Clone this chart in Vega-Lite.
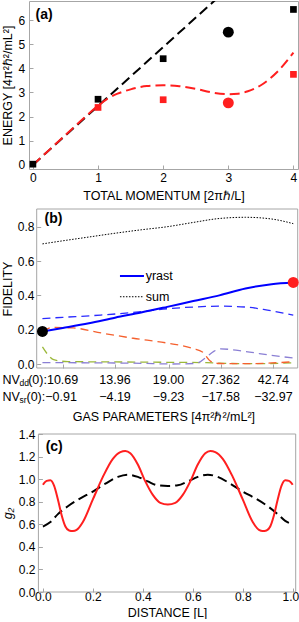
{
  "$schema": "https://vega.github.io/schema/vega-lite/v6.json",
  "padding": {"left": 0, "top": 0, "right": 0, "bottom": 0},
  "spacing": 5,
  "config": {
    "font": "Liberation Sans",
    "view": {"stroke": "#a6a6a6", "strokeWidth": 1},
    "axis": {"domain": false, "grid": false, "tickColor": "#a6a6a6", "tickSize": -4, "labelFontSize": 12, "titleFontSize": 12.5, "titleFontWeight": "normal", "labelColor": "black", "titleColor": "black", "labelFlush": false, "labelOverlap": false, "labelPadding": 6}
  },
  "datasets": {
    "aLine": [{"m": 0, "e": 0}, {"m": 3, "e": 7.32}],
    "aRed": [{"m":0,"e":0},{"m":0.25,"e":0.62},{"m":0.5,"e":1.24},{"m":0.75,"e":1.86},{"m":1,"e":2.45},{"m":1.15,"e":2.75},{"m":1.3,"e":2.95},{"m":1.5,"e":3.13},{"m":1.75,"e":3.27},{"m":2,"e":3.3},{"m":2.25,"e":3.26},{"m":2.5,"e":3.15},{"m":2.75,"e":3.0},{"m":3,"e":2.93},{"m":3.15,"e":2.95},{"m":3.3,"e":3.05},{"m":3.5,"e":3.3},{"m":3.75,"e":3.85},{"m":4,"e":4.65}],
    "aPts": [
      {"m":0,"e":0.03,"series":"A","kind":"sq"},
      {"m":1,"e":2.72,"series":"A","kind":"sq"},
      {"m":2,"e":4.4,"series":"A","kind":"sq"},
      {"m":3,"e":5.5,"series":"A","kind":"ci"},
      {"m":4,"e":6.44,"series":"A","kind":"sq"},
      {"m":1,"e":2.38,"series":"B","kind":"sq"},
      {"m":2,"e":2.7,"series":"B","kind":"sq"},
      {"m":3,"e":2.57,"series":"B","kind":"ci"},
      {"m":4,"e":3.75,"series":"B","kind":"sq"}
    ],
    "aLab": [{"m": 0.04, "e": 6.2, "t": "(a)"}],
    "bFrame": [{"g":0,"g2":1,"f":-0.0233,"f2":0.9033}],
    "bSum": [{"g":0.022,"f":0.70},{"g":0.1,"f":0.718},{"g":0.2,"f":0.74},{"g":0.3,"f":0.762},{"g":0.4,"f":0.782},{"g":0.5,"f":0.80},{"g":0.6,"f":0.825},{"g":0.7,"f":0.848},{"g":0.8,"f":0.855},{"g":0.9,"f":0.845},{"g":0.983,"f":0.818}],
    "bYrast": [{"g":0.022,"f":0.19},{"g":0.1,"f":0.21},{"g":0.2,"f":0.237},{"g":0.3,"f":0.27},{"g":0.4,"f":0.30},{"g":0.5,"f":0.333},{"g":0.6,"f":0.367},{"g":0.7,"f":0.40},{"g":0.8,"f":0.44},{"g":0.9,"f":0.465},{"g":0.983,"f":0.475}],
    "bBlueD": [{"g":0.022,"f":0.265},{"g":0.1,"f":0.272},{"g":0.245,"f":0.285},{"g":0.4,"f":0.305},{"g":0.5,"f":0.322},{"g":0.6,"f":0.332},{"g":0.7,"f":0.337},{"g":0.8,"f":0.332},{"g":0.884,"f":0.314},{"g":0.983,"f":0.285}],
    "bOrange": [{"g":0.022,"f":0.19},{"g":0.06,"f":0.213},{"g":0.14,"f":0.21},{"g":0.25,"f":0.18},{"g":0.37,"f":0.15},{"g":0.5,"f":0.122},{"g":0.6,"f":0.09},{"g":0.635,"f":0.07},{"g":0.667,"f":0.015},{"g":0.7,"f":0.003},{"g":0.8,"f":0.002},{"g":0.9,"f":0.006},{"g":0.983,"f":0.013}],
    "bGreen": [{"g":0.022,"f":0.10},{"g":0.04,"f":0.06},{"g":0.065,"f":0.025},{"g":0.12,"f":0.014},{"g":0.3,"f":0.012},{"g":0.5,"f":0.01},{"g":0.65,"f":0.008},{"g":0.75,"f":0.003},{"g":0.85,"f":0.002},{"g":0.983,"f":0.007}],
    "bPurple": [{"g":0.022,"f":0.008},{"g":0.2,"f":0.007},{"g":0.4,"f":0.004},{"g":0.52,"f":0.0},{"g":0.6,"f":0.003},{"g":0.62,"f":0.008},{"g":0.65,"f":0.04},{"g":0.68,"f":0.075},{"g":0.705,"f":0.088},{"g":0.8,"f":0.073},{"g":0.9,"f":0.05},{"g":0.983,"f":0.035}],
    "bDotK": [{"g":0.022,"f":0.19}],
    "bDotR": [{"g":0.983,"f":0.475}],
    "bLegY": [{"g":0.319,"g2":0.411,"f":0.513}],
    "bLegS": [{"g":0.319,"g2":0.411,"f":0.392}],
    "bLegT": [{"g":0.4176,"f":0.513,"t":"yrast"},{"g":0.4176,"f":0.392,"t":"sum"}],
    "bLab": [{"g":0.03,"f":0.847,"t":"(b)"}],
    "bNVmain": [
      {"g":-0.1314,"f":-0.0932,"t":"NV"},
      {"g":-0.0326,"f":-0.0932,"t":"(0):10.69"},
      {"g":-0.1314,"f":-0.1906,"t":"NV"},
      {"g":-0.0391,"f":-0.1906,"t":"(0):−0.91"}
    ],
    "bNVsub": [
      {"g":-0.0659,"f":-0.0932,"t":"dd"},
      {"g":-0.0659,"f":-0.1906,"t":"sr"}
    ],
    "bNVval": [
      {"g":0.3,"f":-0.0932,"t":"13.96"},
      {"g":0.505,"f":-0.0932,"t":"19.00"},
      {"g":0.705,"f":-0.0932,"t":"27.362"},
      {"g":0.907,"f":-0.0932,"t":"42.74"},
      {"g":0.3,"f":-0.1906,"t":"−4.19"},
      {"g":0.505,"f":-0.1906,"t":"−9.23"},
      {"g":0.705,"f":-0.1906,"t":"−17.58"},
      {"g":0.907,"f":-0.1906,"t":"−32.97"}
    ],
    "cFrame": [{"d":-0.018,"d2":1.012,"v":0,"v2":1.4}],
    "cRed": [{"d":0,"v":0.95},{"d":0.015,"v":0.985},{"d":0.03,"v":0.99},{"d":0.045,"v":0.94},{"d":0.06,"v":0.82},{"d":0.075,"v":0.68},{"d":0.09,"v":0.58},{"d":0.105,"v":0.545},{"d":0.12,"v":0.54},{"d":0.135,"v":0.55},{"d":0.16,"v":0.62},{"d":0.2,"v":0.82},{"d":0.24,"v":1.02},{"d":0.28,"v":1.18},{"d":0.31,"v":1.24},{"d":0.33,"v":1.25},{"d":0.35,"v":1.23},{"d":0.38,"v":1.13},{"d":0.41,"v":0.98},{"d":0.44,"v":0.86},{"d":0.47,"v":0.79},{"d":0.5,"v":0.775},{"d":0.53,"v":0.79},{"d":0.56,"v":0.86},{"d":0.59,"v":0.98},{"d":0.62,"v":1.13},{"d":0.65,"v":1.23},{"d":0.67,"v":1.25},{"d":0.69,"v":1.24},{"d":0.72,"v":1.18},{"d":0.76,"v":1.02},{"d":0.8,"v":0.82},{"d":0.84,"v":0.62},{"d":0.865,"v":0.55},{"d":0.88,"v":0.54},{"d":0.895,"v":0.545},{"d":0.91,"v":0.58},{"d":0.925,"v":0.68},{"d":0.94,"v":0.82},{"d":0.955,"v":0.94},{"d":0.97,"v":0.99},{"d":0.985,"v":0.985},{"d":1.0,"v":0.95}],
    "cBlack": [{"d":0,"v":0.58},{"d":0.03,"v":0.62},{"d":0.06,"v":0.69},{"d":0.1,"v":0.76},{"d":0.15,"v":0.83},{"d":0.2,"v":0.89},{"d":0.25,"v":0.96},{"d":0.3,"v":1.02},{"d":0.34,"v":1.04},{"d":0.38,"v":1.02},{"d":0.42,"v":0.98},{"d":0.46,"v":0.945},{"d":0.5,"v":0.94},{"d":0.54,"v":0.945},{"d":0.58,"v":0.98},{"d":0.62,"v":1.02},{"d":0.66,"v":1.04},{"d":0.7,"v":1.02},{"d":0.75,"v":0.96},{"d":0.8,"v":0.89},{"d":0.85,"v":0.83},{"d":0.9,"v":0.76},{"d":0.94,"v":0.69},{"d":0.97,"v":0.63},{"d":1.0,"v":0.60}],
    "cLab": [{"d":0.011,"v":1.287,"t":"(c)"}]
  },
  "vconcat": [
    {
      "width": 269, "height": 168,
      "encoding": {
        "x": {"field": "m", "type": "quantitative", "scale": {"domain": [-0.06, 4.07], "nice": false, "zero": false}, "axis": {"values": [0,1,2,3,4], "title": "TOTAL MOMENTUM [2πℏ/L]", "labelPadding": 7.5, "titlePadding": 6}},
        "y": {"field": "e", "type": "quantitative", "scale": {"domain": [-0.17, 6.79], "nice": false, "zero": false}, "axis": {"values": [0,1,2,3,4,5,6], "title": "ENERGY [4π²ℏ²/mL²]", "labelPadding": 8.3, "titlePadding": 4}}
      },
      "layer": [
        {"data": {"name": "aLine"}, "mark": {"type": "line", "color": "black", "strokeWidth": 2, "strokeDash": [10, 5], "clip": true}},
        {"data": {"name": "aRed"}, "mark": {"type": "line", "color": "#ff1f1f", "strokeWidth": 2, "strokeDash": [10, 5], "interpolate": "monotone", "clip": true}},
        {"data": {"name": "aPts"}, "mark": {"type": "point", "filled": true, "opacity": 1},
          "encoding": {
            "color": {"field": "series", "type": "nominal", "scale": {"domain": ["A", "B"], "range": ["black", "#ff1f1f"]}, "legend": null},
            "shape": {"field": "kind", "type": "nominal", "scale": {"domain": ["sq", "ci"], "range": ["square", "circle"]}, "legend": null},
            "size": {"field": "kind", "type": "nominal", "scale": {"domain": ["sq", "ci"], "range": [45, 120]}, "legend": null}
          }},
        {"data": {"name": "aLab"}, "mark": {"type": "text", "align": "left", "baseline": "middle", "fontSize": 14, "fontWeight": "bold"}, "encoding": {"text": {"field": "t"}}}
      ]
    },
    {
      "width": 268.7, "height": 159,
      "view": {"stroke": null},
      "encoding": {
        "x": {"field": "g", "type": "quantitative", "scale": {"domain": [-0.0295, 1], "nice": false, "zero": false}, "axis": {"values": [0.1, 0.3, 0.505, 0.705, 0.907], "labels": false, "title": "GAS PARAMETERS [4π²ℏ²/mL²]", "titlePadding": 42}},
        "y": {"field": "f", "type": "quantitative", "scale": {"domain": [-0.0233, 0.9033], "nice": false, "zero": false}, "axis": {"values": [0, 0.2, 0.4, 0.6, 0.8], "format": ".1f", "title": "FIDELITY", "offset": -7.7, "labelPadding": 6.7, "titlePadding": 3.3}}
      },
      "layer": [
        {"data": {"name": "bFrame"}, "mark": {"type": "rect", "filled": false, "color": "#a6a6a6", "strokeWidth": 1}, "encoding": {"x2": {"field": "g2"}, "y2": {"field": "f2"}}},
        {"data": {"name": "bSum"}, "mark": {"type": "line", "color": "black", "strokeWidth": 1, "strokeDash": [1.5, 1.5], "interpolate": "monotone"}},
        {"data": {"name": "bGreen"}, "mark": {"type": "line", "color": "#9bb83a", "strokeWidth": 1.3, "strokeDash": [8, 5], "interpolate": "monotone"}},
        {"data": {"name": "bPurple"}, "mark": {"type": "line", "color": "#8a7fd4", "strokeWidth": 1.3, "strokeDash": [8, 5], "interpolate": "monotone"}},
        {"data": {"name": "bOrange"}, "mark": {"type": "line", "color": "#f5602e", "strokeWidth": 1.3, "strokeDash": [8, 5], "interpolate": "monotone"}},
        {"data": {"name": "bBlueD"}, "mark": {"type": "line", "color": "#2a2aff", "strokeWidth": 1.3, "strokeDash": [8, 5], "interpolate": "monotone"}},
        {"data": {"name": "bYrast"}, "mark": {"type": "line", "color": "#0000ff", "strokeWidth": 2, "interpolate": "monotone"}},
        {"data": {"name": "bDotK"}, "mark": {"type": "circle", "color": "black", "size": 120, "opacity": 1}},
        {"data": {"name": "bDotR"}, "mark": {"type": "circle", "color": "#ff1f1f", "size": 120, "opacity": 1}},
        {"data": {"name": "bLegY"}, "mark": {"type": "rule", "color": "#0000ff", "strokeWidth": 2}, "encoding": {"x2": {"field": "g2"}}},
        {"data": {"name": "bLegS"}, "mark": {"type": "rule", "color": "black", "strokeWidth": 1, "strokeDash": [1.5, 1.5]}, "encoding": {"x2": {"field": "g2"}}},
        {"data": {"name": "bLegT"}, "mark": {"type": "text", "align": "left", "baseline": "middle", "fontSize": 12.5}, "encoding": {"text": {"field": "t"}}},
        {"data": {"name": "bLab"}, "mark": {"type": "text", "align": "left", "baseline": "middle", "fontSize": 14, "fontWeight": "bold"}, "encoding": {"text": {"field": "t"}}},
        {"data": {"name": "bNVmain"}, "mark": {"type": "text", "align": "left", "baseline": "middle", "fontSize": 12.5}, "encoding": {"text": {"field": "t"}}},
        {"data": {"name": "bNVsub"}, "mark": {"type": "text", "align": "left", "baseline": "middle", "fontSize": 8.5, "dy": 3}, "encoding": {"text": {"field": "t"}}},
        {"data": {"name": "bNVval"}, "mark": {"type": "text", "align": "center", "baseline": "middle", "fontSize": 12.5}, "encoding": {"text": {"field": "t"}}}
      ]
    },
    {
      "width": 266.7, "height": 158,
      "view": {"stroke": null},
      "encoding": {
        "x": {"field": "d", "type": "quantitative", "scale": {"domain": [-0.0557, 1.012], "nice": false, "zero": false}, "axis": {"values": [0, 0.2, 0.4, 0.6, 0.8, 1.0], "format": ".1f", "title": "DISTANCE [L]", "titleX": 138, "labelPadding": 3, "titlePadding": 4, "labelFlush": 4, "labelFlushOffset": 6}},
        "y": {"field": "v", "type": "quantitative", "scale": {"domain": [0, 1.4], "nice": false, "zero": false}, "axis": {"values": [0, 0.2, 0.4, 0.6, 0.8, 1.0, 1.2, 1.4], "format": ".1f", "title": "g₂", "titleFontStyle": "italic", "offset": -9.4, "labelPadding": 7.4, "titlePadding": 4.3}}
      },
      "layer": [
        {"data": {"name": "cFrame"}, "mark": {"type": "rect", "filled": false, "color": "#a6a6a6", "strokeWidth": 1}, "encoding": {"x2": {"field": "d2"}, "y2": {"field": "v2"}}},
        {"data": {"name": "cBlack"}, "mark": {"type": "line", "color": "black", "strokeWidth": 2, "strokeDash": [10, 5], "interpolate": "monotone"}},
        {"data": {"name": "cRed"}, "mark": {"type": "line", "color": "#ff1f1f", "strokeWidth": 2, "interpolate": "monotone"}},
        {"data": {"name": "cLab"}, "mark": {"type": "text", "align": "left", "baseline": "middle", "fontSize": 14, "fontWeight": "bold"}, "encoding": {"text": {"field": "t"}}}
      ]
    }
  ]
}
